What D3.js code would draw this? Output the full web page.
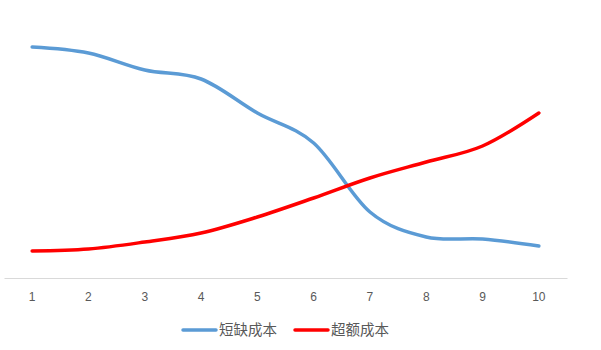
<!DOCTYPE html>
<html>
<head>
<meta charset="utf-8">
<script src="https://cdn.jsdelivr.net/npm/d3@7/dist/d3.min.js"></script>
<style>
  html, body { margin: 0; padding: 0; background: #fff; }
  svg { display: block; }
</style>
</head>
<body>
<svg id="chart" width="601" height="350"></svg>
<script>
// Period labels along the x axis
const categories = ["1", "2", "3", "4", "5", "6", "7", "8", "9", "10"];
// Shortage cost per period
const shortageCost = [231, 225, 208, 199, 165, 135, 66, 41, 39, 32];
// Excess cost per period
const excessCost = [27, 29, 36, 45, 61, 80, 100, 116, 132, 165];
const seriesNames = ["短缺成本", "超额成本"];
const seriesColors = ["#5B9BD5", "#FF0000"];

const svg = d3.select("#chart");
const plot = { left: 4, right: 567, top: 28, bottom: 278 };

const x = d3.scaleBand()
  .domain(categories)
  .range([plot.left, plot.right]);

const y = d3.scaleLinear()
  .domain([0, 250])
  .range([plot.bottom, plot.top]);

// Category axis: light baseline, no tick marks
const xAxis = d3.axisBottom(x).tickSize(0).tickPadding(14);
const gx = svg.append("g")
  .attr("transform", `translate(0,${plot.bottom})`)
  .call(xAxis);
gx.select(".domain").attr("stroke", "#D9D9D9").attr("stroke-width", 1);
gx.selectAll("text")
  .attr("fill", "#595959")
  .style("font-family", "'Liberation Sans', 'Noto Sans', sans-serif")
  .style("font-size", "12px");

const line = d3.line()
  .x((d, i) => x(categories[i]) + x.bandwidth() / 2)
  .y(d => y(d))
  .curve(d3.curveCardinal.tension(0));

[shortageCost, excessCost].forEach((vals, k) => {
  svg.append("path")
    .datum(vals)
    .attr("fill", "none")
    .attr("stroke", seriesColors[k])
    .attr("stroke-width", 3.5)
    .attr("stroke-linecap", "round")
    .attr("stroke-linejoin", "round")
    .attr("d", line);
});

// Legend
const legendItems = [
  { name: seriesNames[0], color: seriesColors[0], x: 183 },
  { name: seriesNames[1], color: seriesColors[1], x: 295 }
];
const lg = svg.append("g").attr("transform", "translate(0,330)");
legendItems.forEach(item => {
  lg.append("line")
    .attr("x1", item.x).attr("x2", item.x + 33)
    .attr("y1", 0).attr("y2", 0)
    .attr("stroke", item.color)
    .attr("stroke-width", 3.5)
    .attr("stroke-linecap", "round");
  lg.append("text")
    .attr("x", item.x + 36)
    .attr("y", 0)
    .attr("dy", "0.35em")
    .attr("fill", "#595959")
    .style("font-family", "'Noto Sans CJK SC', sans-serif")
    .style("font-size", "14.5px")
    .text(item.name);
});
</script>
</body>
</html>
